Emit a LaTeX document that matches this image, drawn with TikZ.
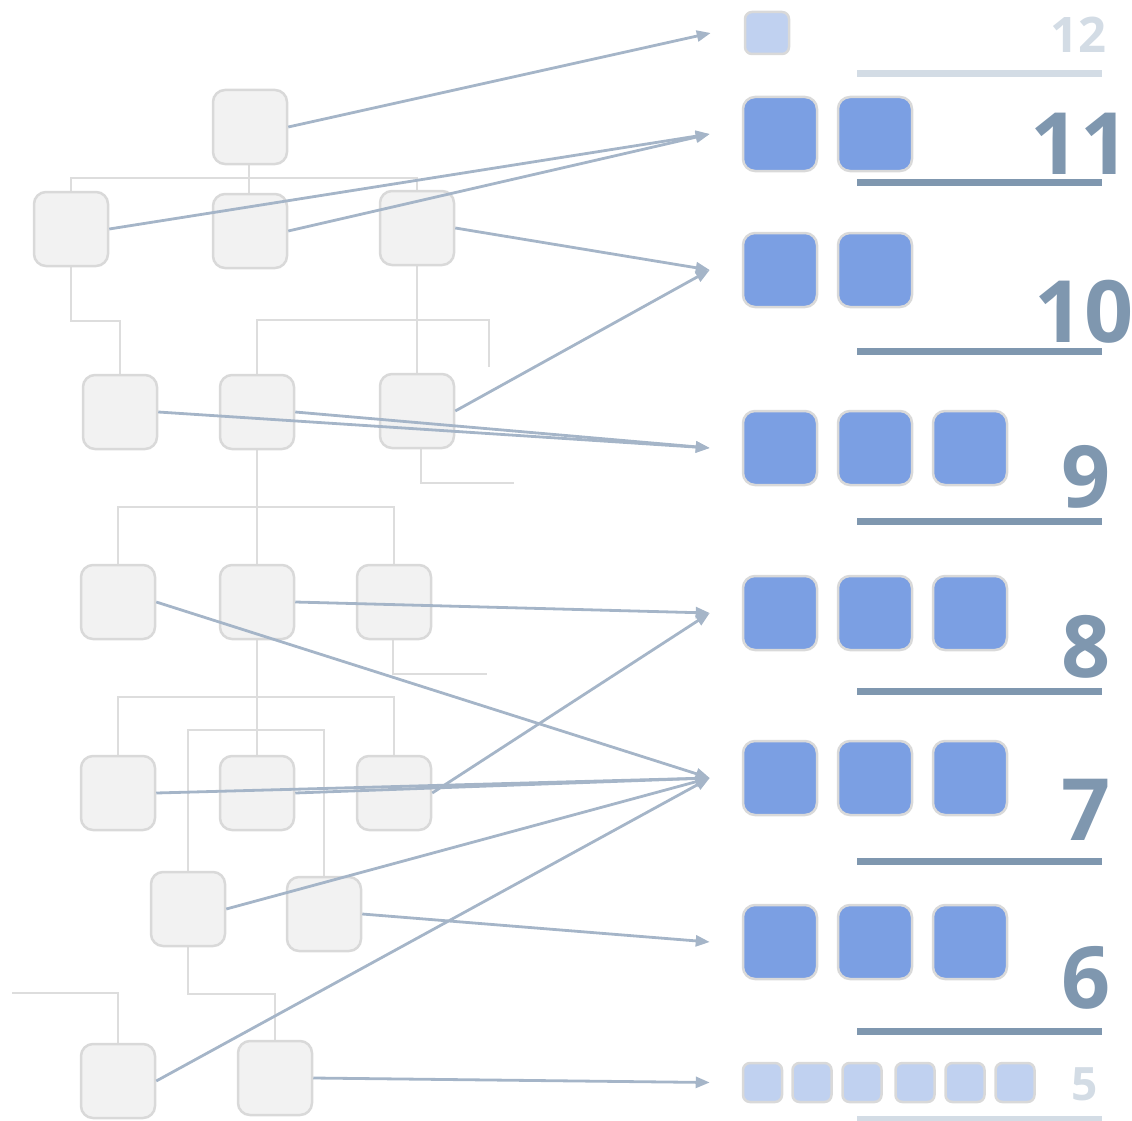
\documentclass[tikz,border=0pt]{standalone}
\usepackage{fontspec}
\newfontfamily\numfont{Open Sans}
\usetikzlibrary{arrows.meta,backgrounds}
\definecolor{treeline}{HTML}{DDDDDD}
\definecolor{boxfill}{HTML}{F2F2F2}
\definecolor{boxedge}{HTML}{D9D9D9}
\definecolor{link}{HTML}{A5B5C8}
\definecolor{blockfill}{HTML}{7B9FE3}
\definecolor{blocklight}{HTML}{C0D1F0}
\definecolor{numdark}{HTML}{7F97AF}
\definecolor{numlight}{HTML}{D3DCE5}
\begin{document}
\begin{tikzpicture}[x=1pt,y=-1pt,
  tbox/.style={draw=boxedge, line width=2.5pt, fill=boxfill, rounded corners=12pt,
    minimum size=74pt, inner sep=0pt},
  gbox/.style={draw=boxedge, line width=2.5pt, fill=blockfill, rounded corners=12pt,
    minimum size=74pt, inner sep=0pt},
  gsmall/.style={draw=boxedge, line width=2.5pt, fill=blocklight, rounded corners=7pt,
    minimum size=39pt, inner sep=0pt},
  tline/.style={draw=treeline, line width=1.5pt},
  arr/.style={draw=link, line width=2.8pt, -{Triangle[length=14pt,width=11pt]}},
  bar/.style={line width=7pt},
  num/.style={font=\numfont\bfseries\fontsize{#1}{#1}\selectfont, anchor=base, inner sep=0pt}
]
\useasboundingbox (0,0) rectangle (1132,1121);

% ---- tree boxes ----
\node[tbox] (r)  at (250,127) {};
\node[tbox] (a1) at (71,229) {};
\node[tbox] (a2) at (250,231) {};
\node[tbox] (a3) at (417,228) {};
\node[tbox] (b1) at (120,412) {};
\node[tbox] (b2) at (257,412) {};
\node[tbox] (b3) at (417,411) {};
\node[tbox] (c1) at (118,602) {};
\node[tbox] (c2) at (257,602) {};
\node[tbox] (c3) at (394,602) {};
\node[tbox] (d1) at (118,793) {};
\node[tbox] (d2) at (257,793) {};
\node[tbox] (d3) at (394,793) {};
\node[tbox] (e1) at (188,909) {};
\node[tbox] (e2) at (324,914) {};
\node[tbox] (f1) at (118,1081) {};
\node[tbox] (f2) at (275,1078) {};

% free ends of the tree lines
\coordinate (s1) at (489,367);
\coordinate (s2) at (514,483);
\coordinate (s3) at (487,674);
\coordinate (s4) at (12,993);
\coordinate (j1) at (249,178);

% ---- tree lines, behind the boxes ----
\begin{scope}[on background layer]
  \draw[tline] ([xshift=-1pt]r.south) -- (j1) -- ([xshift=-1pt]a2.north);
  \draw[tline] (a1.north) |- (j1) -| (a3.north);
  \draw[tline] (a1.south) -- (a1.south |- 0,321) -| (b1.north);
  \draw[tline] (a3.south) -- (b3.north);
  \draw[tline] (b2.north) |- (s1 |- 0,320) -- (s1);
  \draw[tline] ([xshift=4pt]b3.south) |- (s2);
  \draw[tline] (b2.south) -- (c2.north);
  \draw[tline] (c1.north) -- (c1.north |- 0,507) -| (c3.north);
  \draw[tline] ([xshift=-1pt]c3.south) |- (s3);
  \draw[tline] (c2.south) -- (d2.north);
  \draw[tline] (d1.north) -- (d1.north |- 0,697) -| (d3.north);
  \draw[tline] (e1.north) -- (e1.north |- 0,730) -| (e2.north);
  \draw[tline] (e1.south) -- (e1.south |- 0,994) -| (f2.north);
  \draw[tline] (s4) -| (f1.north);
\end{scope}

% ---- target blocks ----
\node[gsmall, minimum width=44pt, minimum height=42pt] (g12) at (767,33) {};
\node[gbox] (g11a) at (780,134) {};
\node[gbox] (g11b) at (875,134) {};
\node[gbox] (g10a) at (780,270) {};
\node[gbox] (g10b) at (875,270) {};
\node[gbox] (g9a) at (780,448) {};
\node[gbox] (g9b) at (875,448) {};
\node[gbox] (g9c) at (970,448) {};
\node[gbox] (g8a) at (780,613) {};
\node[gbox] (g8b) at (875,613) {};
\node[gbox] (g8c) at (970,613) {};
\node[gbox] (g7a) at (780,778) {};
\node[gbox] (g7b) at (875,778) {};
\node[gbox] (g7c) at (970,778) {};
\node[gbox] (g6a) at (780,942) {};
\node[gbox] (g6b) at (875,942) {};
\node[gbox] (g6c) at (970,942) {};
\node[gsmall] (g5a) at (762.5,1082.5) {};
\node[gsmall] (g5b) at (812,1082.5) {};
\node[gsmall] (g5c) at (862,1082.5) {};
\node[gsmall] (g5d) at (915,1082.5) {};
\node[gsmall] (g5e) at (965,1082.5) {};
\node[gsmall] (g5f) at (1015,1082.5) {};

% arrow ends in front of each row
\coordinate (t12) at ([xshift=-33pt]g12.west);
\coordinate (t11) at ([xshift=-32pt]g11a.west);
\coordinate (t10) at ([xshift=-32pt]g10a.west);
\coordinate (t9)  at ([xshift=-32pt]g9a.west);
\coordinate (t8)  at ([xshift=-32pt]g8a.west);
\coordinate (t7)  at ([xshift=-32pt]g7a.west);
\coordinate (t6)  at ([xshift=-32pt]g6a.west);
\coordinate (t5)  at ([xshift=-32pt]g5a.west);

% ---- level bars and numbers ----
\draw[bar, draw=numlight] (857,74)     -- (1102,74);
\draw[bar, draw=numdark]  (857,182.5)  -- (1102,182.5);
\draw[bar, draw=numdark]  (857,351.5)  -- (1102,351.5);
\draw[bar, draw=numdark]  (857,521.5)  -- (1102,521.5);
\draw[bar, draw=numdark]  (857,691.5)  -- (1102,691.5);
\draw[bar, draw=numdark]  (857,861.5)  -- (1102,861.5);
\draw[bar, draw=numdark]  (857,1031.5) -- (1102,1031.5);
\draw[bar, draw=numlight] (857,1119)   -- (1102,1119);

\node[num=49, text=numlight] (n12) at (1078,53) {12};
\node[num=86, text=numdark]  (n11) at (1080,175) {11};
\node[num=86, text=numdark]  (n10) at (1084,342) {10};
\node[num=86, text=numdark]  (n9)  at (1086,507) {9};
\node[num=86, text=numdark]  (n8)  at (1086,677) {8};
\node[num=86, text=numdark]  (n7)  at (1086,840) {7};
\node[num=86, text=numdark]  (n6)  at (1086,1008) {6};
\node[num=46, text=numlight] (n5)  at (1085,1100) {5};

% ---- links from tree boxes to rows ----
\draw[arr] (r.east)  -- (t12);
\draw[arr] (a1.east) -- (t11);
\draw[arr] (a2.east) -- (t11);
\draw[arr] (a3.east) -- (t10);
\draw[arr] (b3.east) -- (t10);
\draw[arr] (b1.east) -- (t9);
\draw[arr] (b2.east) -- (t9);
\draw[arr] (c2.east) -- (t8);
\draw[arr] (d3.east) -- (t8);
\draw[arr] (c1.east) -- (t7);
\draw[arr] (d1.east) -- (t7);
\draw[arr] (d2.east) -- (t7);
\draw[arr] (e1.east) -- (t7);
\draw[arr] (f1.east) -- (t7);
\draw[arr] (e2.east) -- (t6);
\draw[arr] (f2.east) -- (t5);
\end{tikzpicture}
\end{document}
